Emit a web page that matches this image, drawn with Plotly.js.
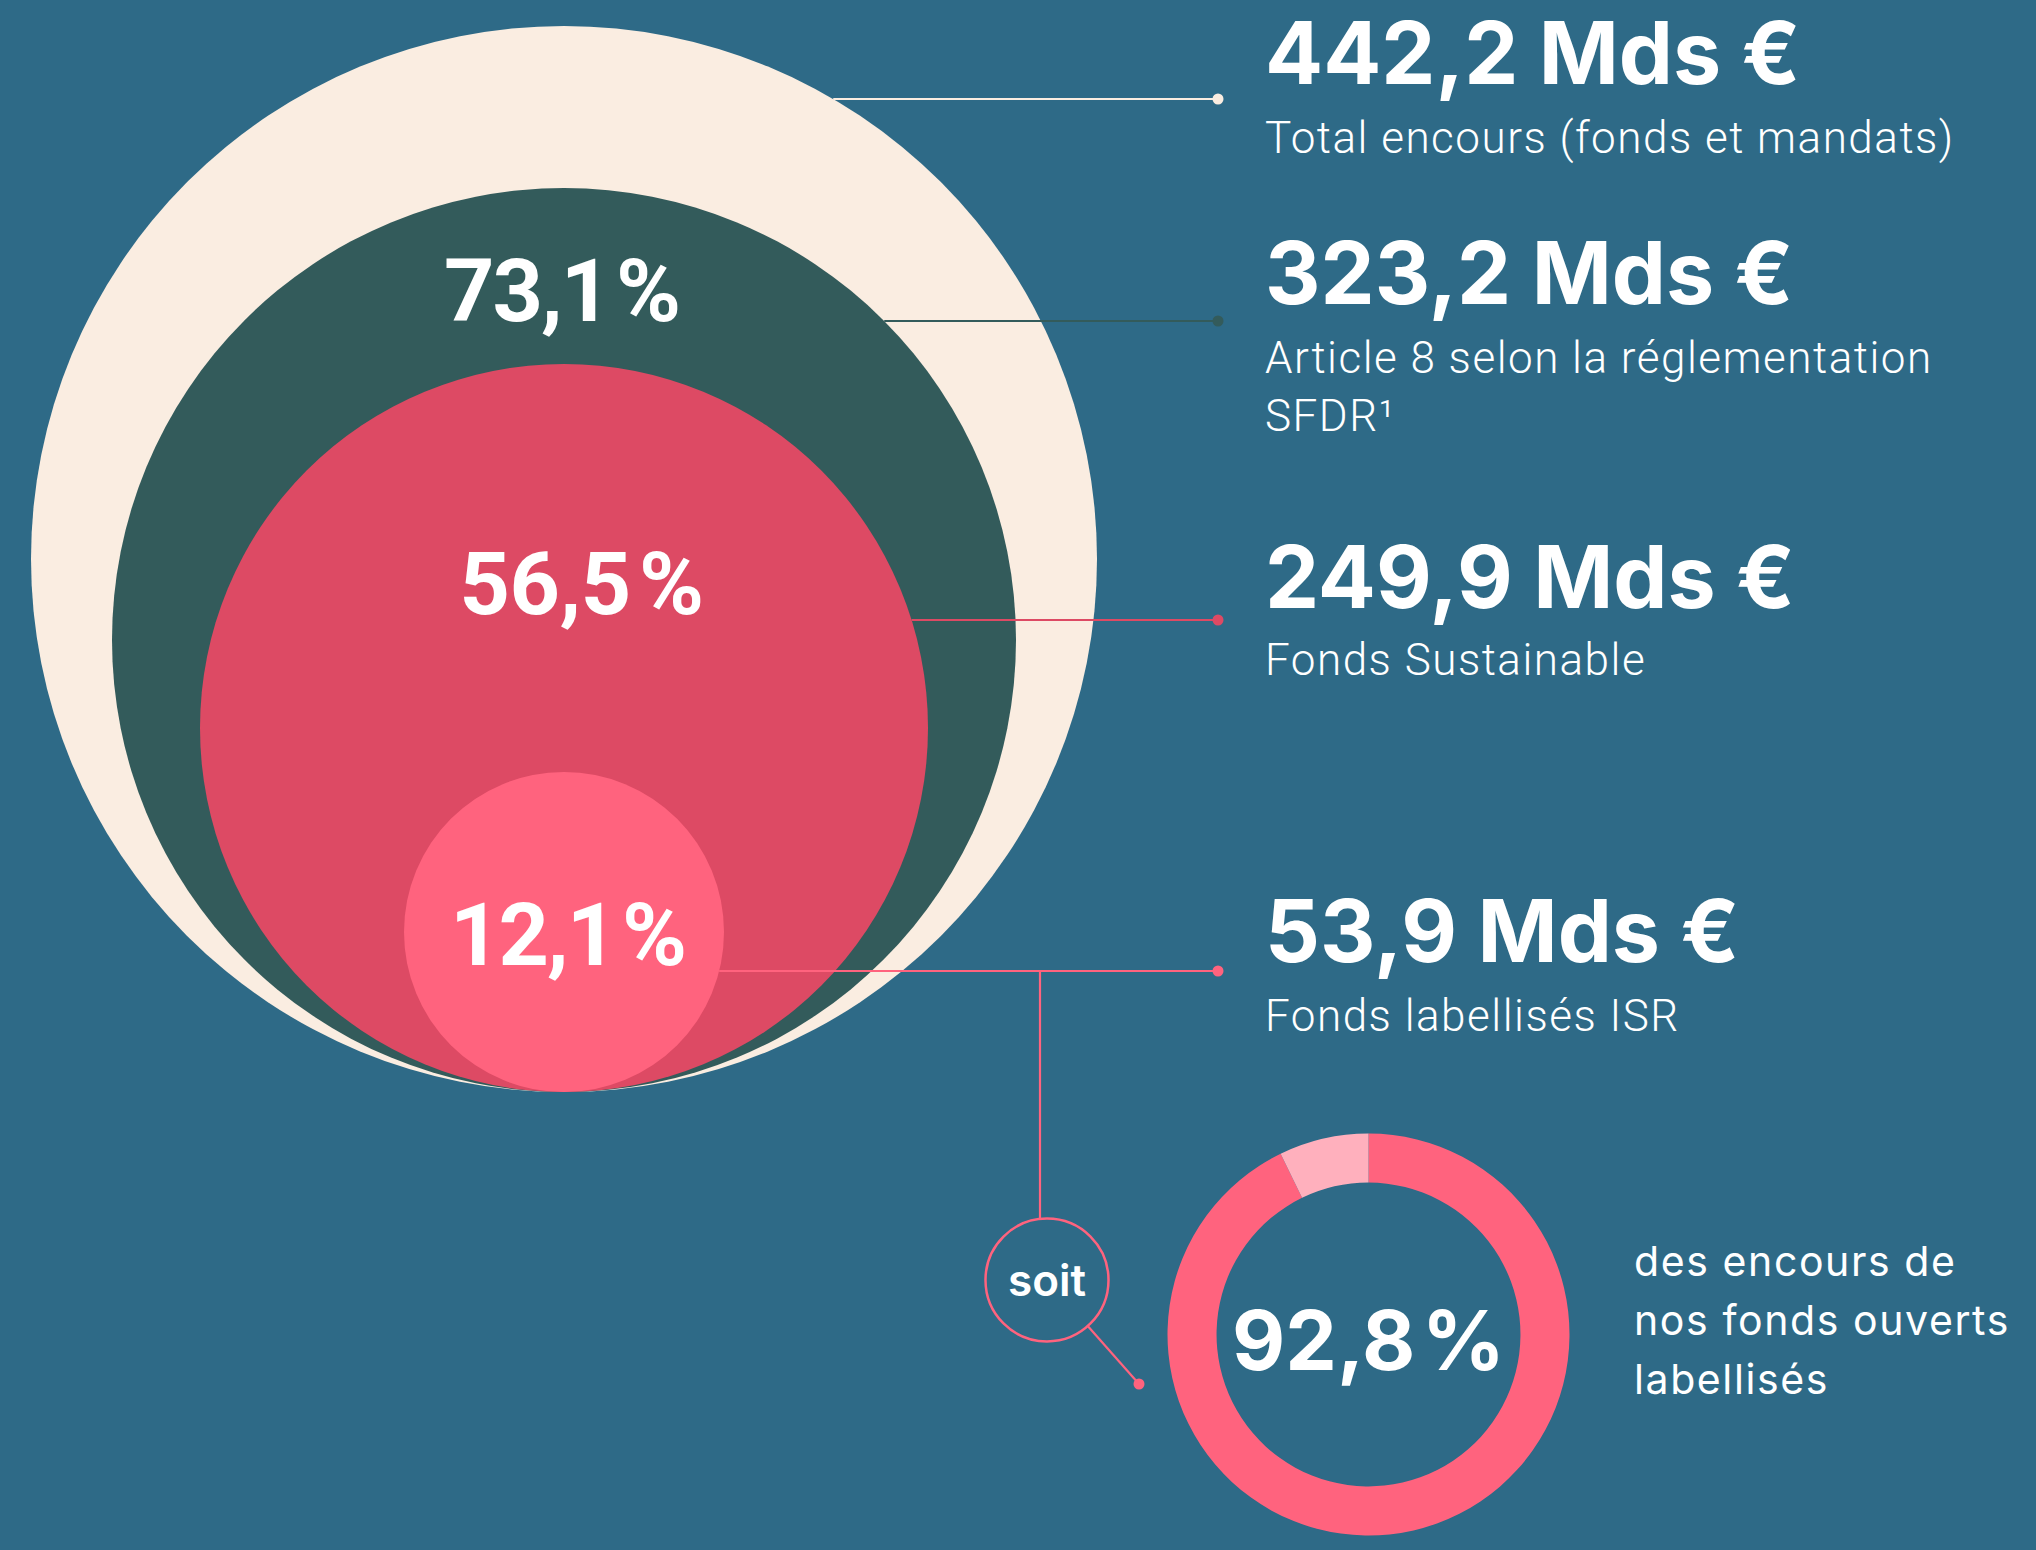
<!DOCTYPE html>
<html>
<head>
<meta charset="utf-8">
<script src="https://cdn.plot.ly/plotly-3.0.1.min.js"></script>
<style>
  html, body { margin: 0; padding: 0; background: #2e6a87; }
  #chart { width: 2036px; height: 1550px; }
</style>
</head>
<body>
<div id="chart"></div>
<script>
// ---------------- DATA ----------------
const categories = [
  ['Total encours (fonds et mandats)'],
  ['Article 8 selon la réglementation', 'SFDR¹'],
  ['Fonds Sustainable'],
  ['Fonds labellisés ISR']
];
const amounts = [442.2, 323.2, 249.9, 53.9];          // Mds €
const shares = [null, 73.1, 56.5, 12.1];               // % of total
const donutLabels = ['Fonds ouverts labellisés', 'Autres'];
const donutValues = [92.8, 7.2];                       // %
const donutCaption = ['des encours de', 'nos fonds ouverts', 'labellisés'];
const connectorWord = 'soit';

// ---------------- STYLE / GEOMETRY ----------------
const BG = '#2e6a87';
const circleColors = ['#faede1', '#335b5b', '#dd4a64', '#ff637e'];
const donutColors = ['#ff637e', '#ffb0bd'];
const CX = 564, BASE_Y = 1092;
const RADII = [533, 452, 364, 160];
const LEADER_Y = [99, 321, 620, 971];
const DOT_X = 1218;
const TEXT_X = 1263;
const HEAD_Y = [53, 273, 576.5, 931];
const SUB_Y = [138, 358, 660, 1016];
const SUB_GAP = 58;
const SHARE_POS = [null, [561, 290.5], [581, 583], [567, 934]];
const SHARE_SPACING = [null, -2, -0.5, -2];
const SOIT = {x: 1047, y: 1280, r: 61.5, lineX: 1040, dot: [1139, 1384]};
const DONUT = {cx: 1368.5, cy: 1334.5, r: 201, hole: 0.756};
const CAPTION = {x: 1632, y: 1261, gap: 59};

const W = 2036, H = 1550;
const fmt = v => v.toFixed(1).replace('.', ',');

const shapes = [];
const annotations = [];
const letterSpacing = {};   // annotation index -> {px, anchor}

// nested circles
RADII.forEach((r, i) => {
  const cy = BASE_Y - r;
  shapes.push({type: 'circle', xref: 'x', yref: 'y', layer: 'below',
    x0: CX - r, x1: CX + r, y0: cy - r, y1: cy + r,
    fillcolor: circleColors[i], line: {width: 0}});
});

// leader lines
const dotX = [], dotY = [], dotC = [];
RADII.forEach((r, i) => {
  const cy = BASE_Y - r;
  const y = LEADER_Y[i];
  const xs = CX + Math.sqrt(r * r - (y - cy) * (y - cy));
  shapes.push({type: 'line', xref: 'x', yref: 'y', layer: 'below',
    x0: xs, x1: DOT_X, y0: y, y1: y,
    line: {color: circleColors[i], width: 2.2}});
  dotX.push(DOT_X); dotY.push(y); dotC.push(circleColors[i]);
});

// connector "soit"
const pink = circleColors[3];
const topY = SOIT.y - Math.sqrt(SOIT.r * SOIT.r - (SOIT.lineX - SOIT.x) ** 2);
shapes.push({type: 'line', xref: 'x', yref: 'y', layer: 'below',
  x0: SOIT.lineX, x1: SOIT.lineX, y0: LEADER_Y[3], y1: topY,
  line: {color: pink, width: 2.2}});
shapes.push({type: 'circle', xref: 'x', yref: 'y', layer: 'below',
  x0: SOIT.x - SOIT.r, x1: SOIT.x + SOIT.r, y0: SOIT.y - SOIT.r, y1: SOIT.y + SOIT.r,
  line: {color: pink, width: 2.5}, fillcolor: 'rgba(0,0,0,0)'});
{
  const dx = SOIT.dot[0] - SOIT.x, dy = SOIT.dot[1] - SOIT.y;
  const L = Math.hypot(dx, dy);
  shapes.push({type: 'line', xref: 'x', yref: 'y', layer: 'below',
    x0: SOIT.x + SOIT.r * dx / L, y0: SOIT.y + SOIT.r * dy / L,
    x1: SOIT.dot[0], y1: SOIT.dot[1],
    line: {color: pink, width: 2.2}});
  dotX.push(SOIT.dot[0]); dotY.push(SOIT.dot[1]); dotC.push(pink);
}

// headings + subtitles
amounts.forEach((v, i) => {
  annotations.push({xref: 'x', yref: 'y', x: TEXT_X, y: HEAD_Y[i],
    xanchor: 'left', yanchor: 'middle', showarrow: false,
    text: fmt(v) + ' Mds €',
    font: {family: 'Inter, Roboto, sans-serif', size: 86, weight: 700, color: '#ffffff'}});
  categories[i].forEach((line, k) => {
    letterSpacing[annotations.length] = {px: 1.5, anchor: 'left'};
    annotations.push({xref: 'x', yref: 'y', x: TEXT_X, y: SUB_Y[i] + k * SUB_GAP,
      xanchor: 'left', yanchor: 'middle', showarrow: false, text: line,
      font: {family: 'Roboto, sans-serif', size: 44, weight: 300, color: '#ffffff'}});
  });
});

// share labels in circles
shares.forEach((s, i) => {
  if (s === null) return;
  letterSpacing[annotations.length] = {px: SHARE_SPACING[i], anchor: 'center'};
  annotations.push({xref: 'x', yref: 'y', x: SHARE_POS[i][0], y: SHARE_POS[i][1],
    xanchor: 'center', yanchor: 'middle', showarrow: false,
    text: fmt(s) + '\u200A%',
    font: {family: 'Roboto, sans-serif', size: 88, weight: 700, color: '#ffffff'}});
});

// soit
annotations.push({xref: 'x', yref: 'y', x: SOIT.x, y: SOIT.y, xanchor: 'center', yanchor: 'middle',
  showarrow: false, text: connectorWord,
  font: {family: 'Inter, sans-serif', size: 44, weight: 600, color: '#ffffff'}});

// donut centre value
annotations.push({xref: 'x', yref: 'y', x: DONUT.cx, y: DONUT.cy + 6, xanchor: 'center', yanchor: 'middle',
  showarrow: false, text: fmt(donutValues[0]) + '\u200A%',
  font: {family: 'Inter, sans-serif', size: 82, weight: 700, color: '#ffffff'}});

// donut caption
donutCaption.forEach((line, k) => {
  letterSpacing[annotations.length] = {px: 1.6, anchor: 'left'};
  annotations.push({xref: 'x', yref: 'y', x: CAPTION.x, y: CAPTION.y + k * CAPTION.gap,
    xanchor: 'left', yanchor: 'middle', showarrow: false, text: line,
    font: {family: 'Inter, sans-serif', size: 41, weight: 400, color: '#ffffff'}});
});

const traces = [
  {type: 'scatter', mode: 'markers', x: dotX, y: dotY, hoverinfo: 'skip', showlegend: false,
   marker: {size: 11, color: dotC, line: {width: 0}}},
  {type: 'pie', labels: donutLabels, values: donutValues, hole: DONUT.hole,
   sort: false, direction: 'clockwise', rotation: 0, textinfo: 'none', hoverinfo: 'skip',
   showlegend: false, marker: {colors: donutColors, line: {width: 0}},
   domain: {x: [(DONUT.cx - DONUT.r) / W, (DONUT.cx + DONUT.r) / W],
            y: [1 - (DONUT.cy + DONUT.r) / H, 1 - (DONUT.cy - DONUT.r) / H]}}
];

const layout = {
  width: W, height: H,
  margin: {l: 0, r: 0, t: 0, b: 0, pad: 0},
  paper_bgcolor: BG, plot_bgcolor: BG,
  showlegend: false,
  xaxis: {range: [0, W], visible: false, fixedrange: true},
  yaxis: {range: [H, 0], visible: false, fixedrange: true},
  shapes: shapes,
  annotations: annotations
};

Plotly.newPlot('chart', traces, layout, {displayModeBar: false, staticPlot: true}).then(gd => {
  gd.querySelectorAll('g.annotation').forEach(g => {
    const i = +g.getAttribute('data-index');
    const spec = letterSpacing[i];
    if (!spec) return;
    const t = g.querySelector('text.annotation-text');
    if (!t) return;
    const b0 = t.getBBox();
    t.style.letterSpacing = spec.px + 'px';
    const b1 = t.getBBox();
    let dx = 0;
    if (spec.anchor === 'left') dx = b0.x - b1.x;
    else dx = (b0.x + b0.width / 2) - (b1.x + b1.width / 2);
    const prev = t.getAttribute('transform') || '';
    t.setAttribute('transform', (prev + ' translate(' + dx + ',0)').trim());
  });
});
</script>
</body>
</html>
